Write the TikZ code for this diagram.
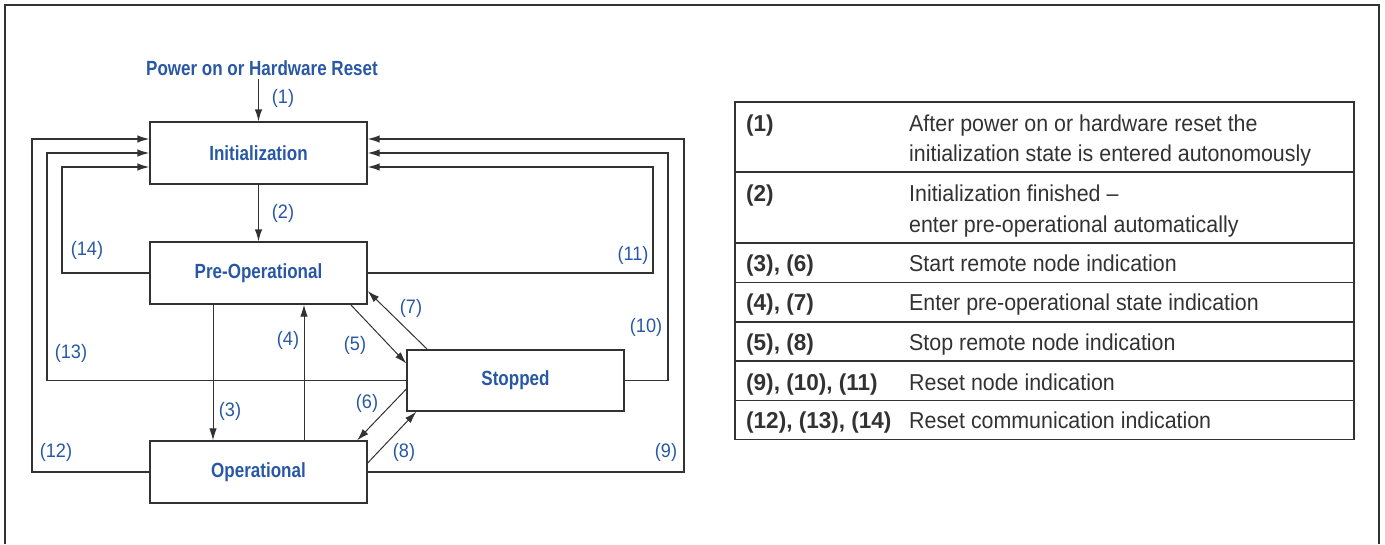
\documentclass[tikz,border=0pt]{standalone}
\usepackage{fontspec}
\usepackage{tikz}
\usetikzlibrary{calc}
\usetikzlibrary{arrows.meta}
\usetikzlibrary{positioning}
\usepackage{xcolor}

\newfontfamily\condfont[FakeStretch=0.83]{Liberation Sans}
\newfontfamily\narrowfont[FakeStretch=0.93]{Liberation Sans}
\newfontfamily\narrowbold[FakeStretch=0.98]{Liberation Sans}

\definecolor{stateblue}{RGB}{40,88,165}
\definecolor{linegray}{RGB}{50,50,50}

\tikzset{
  statebox/.style={draw=linegray, line width=1.3pt, minimum width=217pt, minimum height=62pt,
    inner sep=0pt, font=\condfont\bfseries\fontsize{20.5}{24}\selectfont, text=stateblue},
  flowarrow/.style={draw=linegray, line width=1.3pt, -{Latex[length=12pt,width=7.5pt]}},
  diagarrow/.style={draw=linegray, line width=1pt, -{Latex[length=12pt,width=7.5pt]}},
  numlabel/.style={font=\narrowfont\fontsize{19.5}{22}\selectfont, text=stateblue, inner sep=0pt},
  cellnum/.style={anchor=base west, inner sep=0pt, font=\narrowbold\bfseries\fontsize{23}{27}\selectfont, text=linegray},
  celltext/.style={anchor=base west, inner sep=0pt, font=\narrowfont\fontsize{23}{27}\selectfont, text=linegray},
}

\begin{document}
\begin{tikzpicture}[x=1pt, y=-1pt]
    \useasboundingbox (0,0) rectangle (1385,544);

    % 1. Outer frame, open at the bottom
    \draw[linegray, line width=1.5pt] (5,544) -- (5,5) -- (1379,5) -- (1379,544);

    % 2. The four states
    \node[font=\condfont\bfseries\fontsize{20.5}{24}\selectfont, text=stateblue] (power) at (262,68) {Power on or Hardware Reset};
    \node[statebox] (init)  at (258.5,153) {Initialization};
    \node[statebox] (preop) at (258.5,273) {Pre-Operational};
    \node[statebox] (oper)  at (258.5,472) {Operational};
    \node[statebox, minimum height=61pt] (stop) at (515.5,380.5) {Stopped};

    % 3. Columns of the reset loops and their entry points on Initialization
    \coordinate (l1) at (32,0);  \coordinate (l2) at (47,0);  \coordinate (l3) at (62,0);
    \coordinate (r1) at (684,0); \coordinate (r2) at (668,0); \coordinate (r3) at (653,0);
    \coordinate (iw1) at ($(init.west)+(0,-14)$);
    \coordinate (iw2) at (init.west);
    \coordinate (iw3) at ($(init.west)+(0,14)$);
    \coordinate (ie1) at ($(init.east)+(0,-14)$);
    \coordinate (ie2) at (init.east);
    \coordinate (ie3) at ($(init.east)+(0,14)$);

    % 4. Straight transitions
    \draw[flowarrow] (init.north |- power.south) -- (init.north);
    \draw[flowarrow] (init.south) -- (preop.north);
    \draw[diagarrow] ([xshift=-45.5pt]preop.south) -- ([xshift=-45.5pt]oper.north);
    \draw[diagarrow] ([xshift=45.5pt]oper.north) -- ([xshift=45.5pt]preop.south);
    \draw[diagarrow] ([xshift=-17pt]preop.south east) -- ([yshift=17pt]stop.west);
    \draw[diagarrow] ([xshift=21pt]stop.north west) -- ([yshift=-18pt]preop.east);
    \draw[diagarrow] ([yshift=-8.5pt]stop.west) -- ([xshift=-10.5pt]oper.north east);
    \draw[diagarrow] ([yshift=9pt]oper.east) -- ([xshift=10pt]stop.south west);

    % 5. Reset loops back to Initialization
    \draw[flowarrow] (oper.west) -- (oper.west -| l1) |- (iw1);
    \draw[flowarrow] (stop.west) -- (stop.west -| l2) |- (iw2);
    \draw[flowarrow] (preop.west) -- (preop.west -| l3) |- (iw3);
    \draw[flowarrow] (oper.east) -- (oper.east -| r1) |- (ie1);
    \draw[flowarrow] (stop.east) -- (stop.east -| r2) |- (ie2);
    \draw[flowarrow] (preop.east) -- (preop.east -| r3) |- (ie3);

    % 6. Transition numbers
    \node[numlabel] (n1)  at (283,98)  {(1)};
    \node[numlabel] (n2)  at (283,213) {(2)};
    \node[numlabel] (n3)  at (230,411) {(3)};
    \node[numlabel] (n4)  at (288,340) {(4)};
    \node[numlabel] (n5)  at (355,345) {(5)};
    \node[numlabel] (n6)  at (367,403) {(6)};
    \node[numlabel] (n7)  at (411,308) {(7)};
    \node[numlabel] (n8)  at (404,452) {(8)};
    \node[numlabel] (n9)  at (666,452) {(9)};
    \node[numlabel] (n10) at (646,327) {(10)};
    \node[numlabel] (n11) at (633,255) {(11)};
    \node[numlabel] (n12) at (56,452)  {(12)};
    \node[numlabel] (n13) at (71,353)  {(13)};
    \node[numlabel] (n14) at (87,250)  {(14)};

    % 7. Legend table
    \draw[linegray, line width=1.2pt] (735,102) rectangle (1354,439.5);
    \foreach \y in {172, 243, 282.5, 322, 361, 400.5} {
        \draw[linegray, line width=1.2pt] (735,\y) -- (1354,\y);
    }
    \node[cellnum]  (c1)  at (746,131.5) {(1)};
    \node[celltext] (t1a) at (909,131.5) {After power on or hardware reset the};
    \node[celltext] (t1b) at (909,161.5) {initialization state is entered autonomously};
    \node[cellnum]  (c2)  at (746,201) {(2)};
    \node[celltext] (t2a) at (909,201) {Initialization finished \textendash};
    \node[celltext] (t2b) at (909,232) {enter pre-operational automatically};
    \foreach \yb/\num/\txt in {271.5/{(3), (6)}/{Start remote node indication},
                               310.5/{(4), (7)}/{Enter pre-operational state indication},
                               350/{(5), (8)}/{Stop remote node indication},
                               390/{(9), (10), (11)}/{Reset node indication},
                               428.5/{(12), (13), (14)}/{Reset communication indication}} {
        \node[cellnum]  at (746,\yb) {\num};
        \node[celltext] at (909,\yb) {\txt};
    }

\end{tikzpicture}
\end{document}
